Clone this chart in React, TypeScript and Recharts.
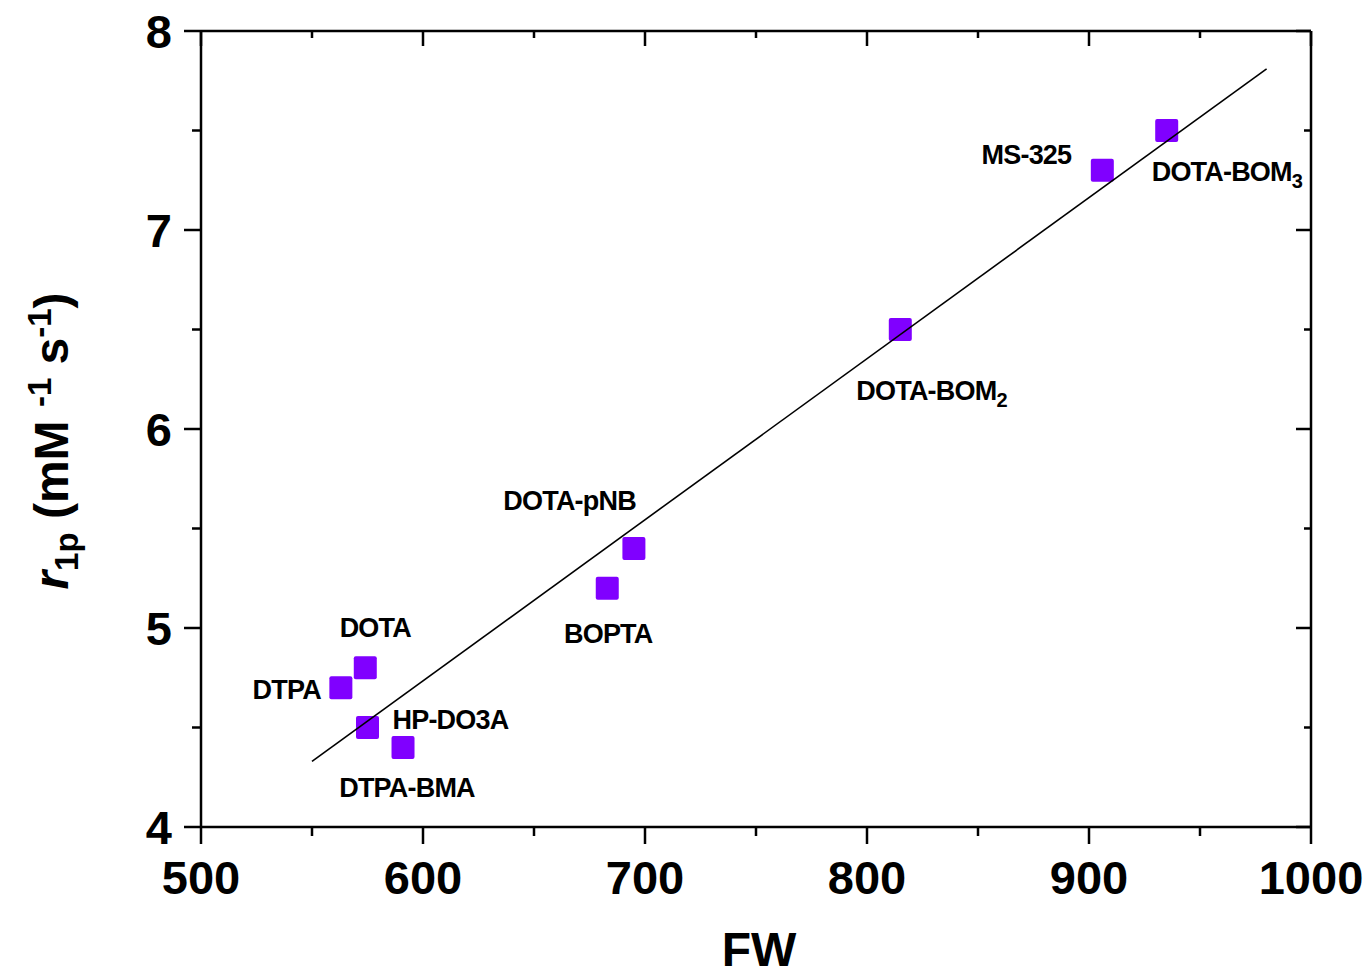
import { Label, Scatter, ScatterChart, XAxis, YAxis } from 'recharts';

// Relaxivity vs formula weight for Gd(III) chelates
const compounds = ['DTPA', 'DOTA', 'HP-DO3A', 'DTPA-BMA', 'BOPTA', 'DOTA-pNB', 'DOTA-BOM2', 'MS-325', 'DOTA-BOM3'];
const formulaWeight = [563, 574, 575, 591, 683, 695, 815, 906, 935];
const relaxivity = [4.7, 4.8, 4.5, 4.4, 5.2, 5.4, 6.5, 7.3, 7.5];

// linear fit, drawn between its two end points
const fitFW = [550, 980];
const fitR1 = [4.33, 7.81];

const xTicks = [500, 550, 600, 650, 700, 750, 800, 850, 900, 950, 1000];
const yTicks = [4, 4.5, 5, 5.5, 6, 6.5, 7, 7.5, 8];

const points = compounds.map((name, i) => ({ name, fw: formulaWeight[i], r1: relaxivity[i] }));
const fitLine = fitFW.map((fw, i) => ({ fw, r1: fitR1[i] }));

// where each compound's label sits relative to its marker
const labelPos: Record<string, { dx: number; dy: number; anchor: 'start' | 'middle' | 'end' }> = {
  'DTPA': { dx: -20, dy: 11, anchor: 'end' },
  'DOTA': { dx: 10, dy: -31, anchor: 'middle' },
  'HP-DO3A': { dx: 25, dy: 1, anchor: 'start' },
  'DTPA-BMA': { dx: 4, dy: 50, anchor: 'middle' },
  'BOPTA': { dx: 1, dy: 55, anchor: 'middle' },
  'DOTA-pNB': { dx: 2, dy: -38, anchor: 'end' },
  'DOTA-BOM2': { dx: -44, dy: 70, anchor: 'start' },
  'MS-325': { dx: -31, dy: -6, anchor: 'end' },
  'DOTA-BOM3': { dx: -15, dy: 50, anchor: 'start' },
};

const FONT = '"Liberation Sans", Arial, sans-serif';
const AXIS_W = 2.5;
const MARKER = 23;
const PURPLE = '#8000ff';

function LabelText({ name, x, y }: { name: string; x: number; y: number }) {
  const pos = labelPos[name];
  const m = name.match(/^(DOTA-BOM)(\d)$/);
  return (
    <text
      x={x + pos.dx}
      y={y + pos.dy}
      textAnchor={pos.anchor}
      fontFamily={FONT}
      fontWeight='bold'
      fontSize={27}
      letterSpacing={-0.8}
      fill='#000'
    >
      {m ? (
        <>
          {m[1]}
          <tspan fontSize={20} dy={7}>
            {m[2]}
          </tspan>
        </>
      ) : (
        name
      )}
    </text>
  );
}

function SquareMarker(props: any) {
  const { cx, cy, payload } = props;
  return (
    <g>
      <rect
        x={cx - MARKER / 2}
        y={cy - MARKER / 2}
        width={MARKER}
        height={MARKER}
        rx={2}
        fill={PURPLE}
      />
      <LabelText name={payload.name} x={cx} y={cy} />
    </g>
  );
}

const isMajorX = (v: number) => v % 100 === 0;
const isMajorY = (v: number) => Number.isInteger(v);

function BottomTick({ x, y, payload }: any) {
  const major = isMajorX(payload.value);
  return (
    <g>
      <line x1={x} x2={x} y1={y} y2={y + (major ? 17 : 9)} stroke='#000' strokeWidth={AXIS_W} />
      {major && (
        <text x={x} y={y + 67} textAnchor='middle' fontFamily={FONT} fontWeight='bold' fontSize={47} fill='#000'>
          {payload.value}
        </text>
      )}
    </g>
  );
}

function LeftTick({ x, y, payload }: any) {
  const major = isMajorY(payload.value);
  return (
    <g>
      <line x1={x} x2={x - (major ? 17 : 9)} y1={y} y2={y} stroke='#000' strokeWidth={AXIS_W} />
      {major && (
        <text x={x - 29} y={y + 17} textAnchor='end' fontFamily={FONT} fontWeight='bold' fontSize={47} fill='#000'>
          {payload.value}
        </text>
      )}
    </g>
  );
}

function TopTick({ x, y, payload }: any) {
  const len = isMajorX(payload.value) ? 15 : 7;
  return <line x1={x} x2={x} y1={y} y2={y + len} stroke='#000' strokeWidth={AXIS_W} />;
}

function RightTick({ x, y, payload }: any) {
  const len = isMajorY(payload.value) ? 15 : 7;
  return <line x1={x} x2={x - len} y1={y} y2={y} stroke='#000' strokeWidth={AXIS_W} />;
}

function XTitle({ viewBox }: any) {
  const { x, y, width } = viewBox;
  return (
    <text x={x + width / 2 + 3} y={y + 139} textAnchor='middle' fontFamily={FONT} fontWeight='bold' fontSize={48} fill='#000'>
      FW
    </text>
  );
}

function YTitle({ viewBox }: any) {
  const { x, y, height } = viewBox;
  const cx = x - 13;
  const cy = y + height / 2 + 12;
  return (
    <text
      x={cx}
      y={cy}
      transform={`rotate(-90 ${cx} ${cy})`}
      textAnchor='middle'
      fontFamily={FONT}
      fontWeight='bold'
      fontSize={48}
      fill='#000'
    >
      <tspan fontStyle='italic'>r</tspan>
      <tspan fontSize={33} dy={10}>1p</tspan>
      <tspan dy={-10}> (mM </tspan>
      <tspan fontSize={33} dy={-17}>-1</tspan>
      <tspan dy={17}> s</tspan>
      <tspan fontSize={33} dy={-17}>-1</tspan>
      <tspan dy={17}>)</tspan>
    </text>
  );
}

export default function App() {
  return (
    <div style={{ position: 'absolute', left: 0, top: 0, background: '#fff' }}>
      <ScatterChart width={1370} height={975} margin={{ top: 30, right: 58, bottom: 48, left: 81 }}>
        <XAxis
          xAxisId='main'
          type='number'
          dataKey='fw'
          domain={[500, 1000]}
          ticks={xTicks}
          interval={0}
          height={100}
          tickSize={0}
          tickMargin={0}
          tickLine={false}
          axisLine={{ stroke: '#000', strokeWidth: AXIS_W }}
          tick={<BottomTick />}
          allowDataOverflow
        >
          <Label content={<XTitle />} />
        </XAxis>
        {/* mirrored frame on top and right, ticks pointing inward */}
        <XAxis
          xAxisId='top'
          orientation='top'
          type='number'
          dataKey='fw'
          domain={[500, 1000]}
          ticks={xTicks}
          interval={0}
          height={1}
          tickSize={0}
          tickMargin={0}
          tickLine={false}
          axisLine={{ stroke: '#000', strokeWidth: AXIS_W }}
          tick={<TopTick />}
          allowDataOverflow
        />
        <YAxis
          yAxisId='main'
          type='number'
          dataKey='r1'
          domain={[4, 8]}
          ticks={yTicks}
          interval={0}
          width={120}
          tickSize={0}
          tickMargin={0}
          tickLine={false}
          axisLine={{ stroke: '#000', strokeWidth: AXIS_W }}
          tick={<LeftTick />}
          allowDataOverflow
        >
          <Label content={<YTitle />} />
        </YAxis>
        <YAxis
          yAxisId='right'
          orientation='right'
          type='number'
          dataKey='r1'
          domain={[4, 8]}
          ticks={yTicks}
          interval={0}
          width={1}
          tickSize={0}
          tickMargin={0}
          tickLine={false}
          axisLine={{ stroke: '#000', strokeWidth: AXIS_W }}
          tick={<RightTick />}
          allowDataOverflow
        />
        <Scatter
          xAxisId='main'
          yAxisId='main'
          data={points}
          shape={<SquareMarker />}
          isAnimationActive={false}
        />
        <Scatter
          xAxisId='main'
          yAxisId='main'
          data={fitLine}
          line={{ stroke: '#000', strokeWidth: 1.6 }}
          shape={() => <g />}
          isAnimationActive={false}
        />
        <Scatter xAxisId='top' yAxisId='right' data={fitLine} shape={() => <g />} isAnimationActive={false} />
      </ScatterChart>
    </div>
  );
}
